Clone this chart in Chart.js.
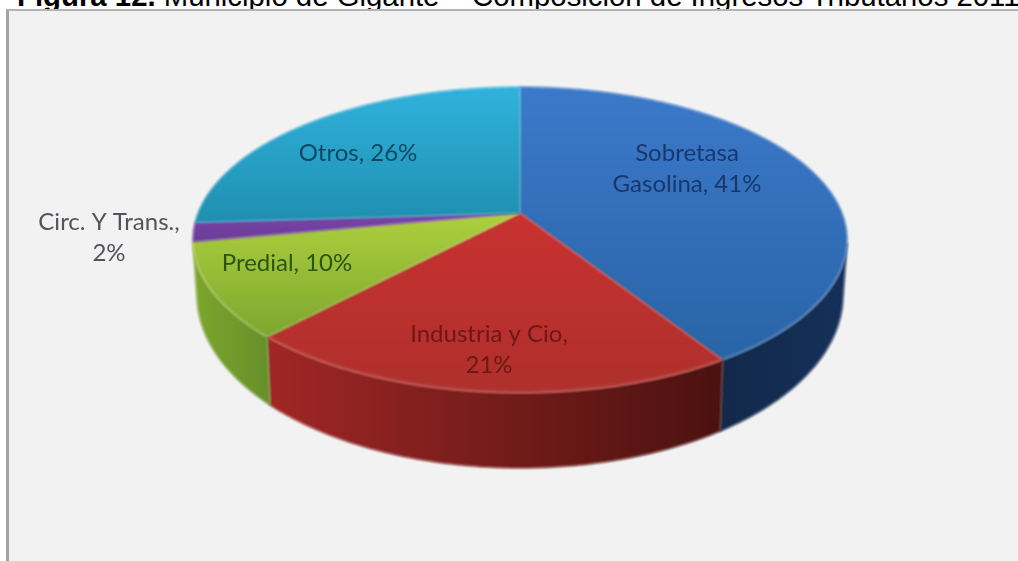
<!DOCTYPE html>
<html>
<head>
<meta charset="utf-8">
<style>
html,body{margin:0;padding:0;background:#fff;width:1018px;height:561px;overflow:hidden}
#title{position:absolute;left:17px;top:0;width:1001px;height:10px;overflow:hidden;white-space:nowrap;font:29.35px "Liberation Sans",Arial,sans-serif;color:#000}
#title span{position:relative;top:-21px}
#panel{position:absolute;left:6px;top:9px;width:1012px;height:552px;box-sizing:border-box;background:#f2f2f2;border-left:3px solid #a4a4a4;border-top:2px solid #b4b4b4}
canvas{position:absolute;left:0;top:0}
</style>
</head>
<body>
<div id="title"><span><b>Figura 12.</b> Municipio de Gigante – Composición de Ingresos Tributarios 2011</span></div>
<div id="panel"></div>
<canvas id="c" width="1018" height="561"></canvas>
<script src="https://cdn.jsdelivr.net/npm/chart.js@4/dist/chart.umd.min.js"></script>
<script>
const categories = ['Sobretasa Gasolina', 'Industria y Cio', 'Predial', 'Circ. Y Trans.', 'Otros'];
const shares = [41, 21, 10, 2, 26];
const labelLines = [['Sobretasa', 'Gasolina, 41%'], ['Industria y Cio,', '21%'], ['Predial, 10%'], ['Circ. Y Trans.,', '2%'], ['Otros, 26%']];
const labelCentres = [[687, 169], [489, 350], [287, 263], [109, 238], [358, 153]];
const labelColours = ['#17386f', '#6e1715', '#2c5410', '#50555c', '#0f4866'];
const faceTop = ['#3c79ca', '#c93230', '#aed03e', '#7a45a8', '#30b2dc'];
const faceBottom = ['#2964a6', '#ae302c', '#7da62e', '#6a3c96', '#1f8fb0'];
const wallLeft = ['#12294a', '#a02725', '#7da62c', '#5a3380', '#17708a'];
const wallRight = ['#16305a', '#4a1210', '#66902a', '#5a3380', '#17708a'];

const K = -0.1765, AX = 2.104, BY = 0.9686, APEX = 27, FRONT = 0.19;
function project(el, t) {
  const X = Math.cos(t), Y = Math.sin(t), w = 1 + K * Y, R = el.outerRadius;
  return { x: el.x + AX * R * X / w, y: el.y - APEX + BY * R * Y / w, Y };
}
function lower(el, p) {
  const d = 50 + 25 * p.Y;
  return { x: el.x + (p.x - el.x) * 0.988, y: p.y + d };
}
function samples(a, b) {
  const n = Math.max(2, Math.ceil((b - a) / 0.01)), out = [];
  for (let i = 0; i <= n; i++) out.push(a + (b - a) * i / n);
  return out;
}
const pie3d = {
  id: 'pie3d',
  beforeDatasetsDraw(chart) {
    const { ctx } = chart;
    const arcs = chart.getDatasetMeta(0).data;
    ctx.save();
    ctx.filter = 'blur(0.8px)';
    // side walls
    arcs.forEach((el, i) => {
      const pts = samples(el.startAngle, el.endAngle).map(t => project(el, t)).filter(p => p.Y >= FRONT);
      if (pts.length < 2) return;
      const g = ctx.createLinearGradient(pts[pts.length - 1].x, 0, pts[0].x, 0);
      g.addColorStop(0, wallLeft[i]); g.addColorStop(1, wallRight[i]);
      ctx.beginPath();
      pts.forEach((p, j) => j ? ctx.lineTo(p.x, p.y) : ctx.moveTo(p.x, p.y));
      pts.slice().reverse().forEach(p => { const q = lower(el, p); ctx.lineTo(q.x, q.y); });
      ctx.closePath();
      ctx.fillStyle = g; ctx.strokeStyle = g; ctx.lineWidth = 0.8;
      ctx.fill(); ctx.stroke();
    });
    // top faces, each shaded over its own height
    arcs.forEach((el, i) => {
      const rim = samples(el.startAngle, el.endAngle).map(t => project(el, t));
      const ys = rim.map(p => p.y).concat(el.y - APEX);
      const g = ctx.createLinearGradient(0, Math.min(...ys), 0, Math.max(...ys));
      g.addColorStop(0, faceTop[i]); g.addColorStop(1, faceBottom[i]);
      ctx.beginPath();
      ctx.moveTo(el.x, el.y - APEX);
      rim.forEach(p => ctx.lineTo(p.x, p.y));
      ctx.closePath();
      ctx.fillStyle = g; ctx.strokeStyle = g; ctx.lineWidth = 0.8;
      ctx.fill(); ctx.stroke();
    });
    // light bevel along the front rim
    arcs.forEach((el) => {
      const pts = samples(el.startAngle, el.endAngle).map(t => project(el, t)).filter(p => p.Y >= FRONT);
      if (pts.length < 2) return;
      ctx.beginPath();
      pts.forEach((p, j) => j ? ctx.lineTo(p.x, p.y - 2) : ctx.moveTo(p.x, p.y - 2));
      ctx.strokeStyle = 'rgba(255,255,255,0.07)'; ctx.lineWidth = 2; ctx.stroke();
    });
    ctx.restore();
    return false;
  },
  afterDraw(chart) {
    const { ctx } = chart;
    ctx.save();
    ctx.filter = 'blur(0.6px)';
    ctx.font = '24px Lato, sans-serif';
    ctx.textAlign = 'center';
    ctx.textBaseline = 'middle';
    labelLines.forEach((lines, i) => {
      ctx.fillStyle = labelColours[i];
      lines.forEach((s, j) => ctx.fillText(s, labelCentres[i][0], labelCentres[i][1] + (j - (lines.length - 1) / 2) * 31));
    });
    ctx.restore();
  }
};
new Chart(document.getElementById('c'), {
  type: 'pie',
  data: { labels: categories, datasets: [{ data: shares, backgroundColor: faceBottom, borderWidth: 0 }] },
  options: {
    responsive: false,
    animation: false,
    events: [],
    layout: { padding: { left: 40, right: 18, top: 87, bottom: 168 } },
    plugins: { legend: { display: false }, tooltip: { enabled: false } }
  },
  plugins: [pie3d]
});
</script>
</body>
</html>
